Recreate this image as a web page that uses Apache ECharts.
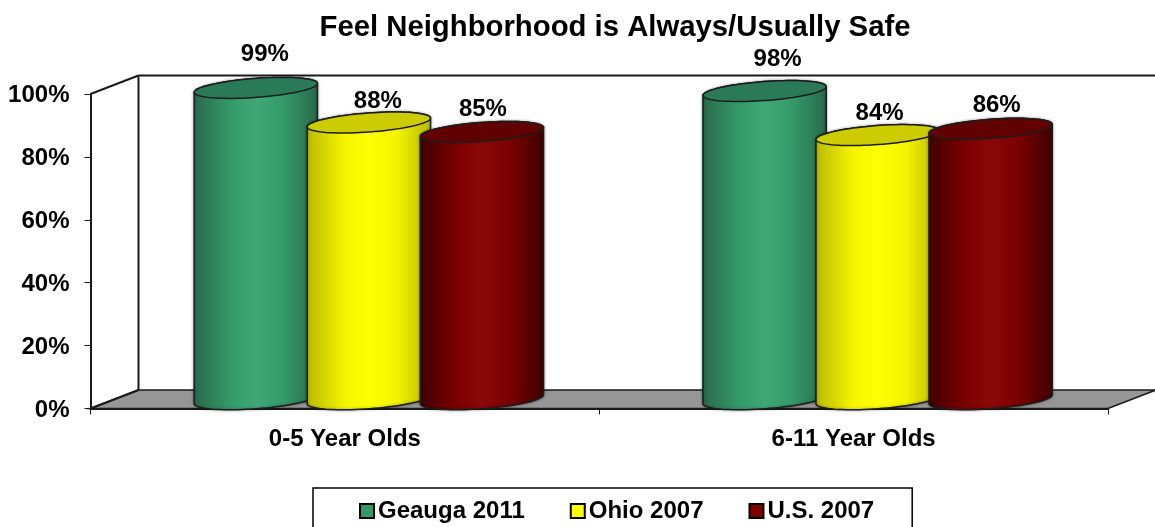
<!DOCTYPE html>
<html>
<head>
<meta charset="utf-8">
<style>html,body{margin:0;padding:0;background:#fff}#c{width:1155px;height:527px}</style>
<script src="https://cdn.jsdelivr.net/npm/echarts@6/dist/echarts.min.js"></script>
</head>
<body>
<div id="c"></div>
<script>
const categories = ['0-5 Year Olds', '6-11 Year Olds'];
const geauga = [99, 98];
const ohio = [88, 84];
const us = [85, 86];
const yTicks = [0, 20, 40, 60, 80, 100];

// layout: label nudges in px per series and category [dx, dy] from the cylinder's top centre
const labelNudge = [
  [[9, -33.5], [13, -32]],
  [[9, -21], [2, -22]],
  [[1, -23], [6, -23.5]]
];
const FONT = '"Liberation Sans", Arial, sans-serif';
const DEPTH_X = 48, DEPTH_Y = 18.5;
const palettes = [
  {main: '#339966', edge: '#28694c', mid: '#349a69', hi: '#3fa877', top: '#2a7a58'},
  {main: '#ffff00', edge: '#b9b900', mid: '#f4f400', hi: '#ffff00', top: '#cccc00'},
  {main: '#800000', edge: '#3f0000', mid: '#7a0000', hi: '#8c0808', top: '#600000'}
];

function ellipsePts(cx, cy, a, b, from, to, n) {
  const th = 4.2 * Math.PI / 180, pts = [];
  for (let i = 0; i <= n; i++) {
    const t = from + (to - from) * i / n;
    const x = a * Math.cos(t), y = b * Math.sin(t);
    pts.push([cx + x * Math.cos(th) + y * Math.sin(th), cy - x * Math.sin(th) + y * Math.cos(th)]);
  }
  return pts;
}

function cylinder(seriesIdx) {
  const pal = palettes[seriesIdx];
  return function (params, api) {
    const cat = api.value(0), val = api.value(1);
    const top = api.coord([cat, val]), base = api.coord([cat, 0]);
    const band = api.size([1, 0])[0];
    const step = band * 0.2222, a = band * 0.1215, b = 9.5;
    const cx = top[0] + DEPTH_X / 2 + (seriesIdx - 1) * step;
    const cyTop = top[1] - DEPTH_Y / 2, cyBase = base[1] - DEPTH_Y / 2;
    const body = ellipsePts(cx, cyBase, a, b, 0, Math.PI, 40)
      .concat(ellipsePts(cx, cyTop, a, b, Math.PI, 2 * Math.PI, 40));
    const nudge = labelNudge[seriesIdx][cat];
    return {
      type: 'group',
      children: [
        {type: 'polygon', shape: {points: body}, style: {
          fill: {type: 'linear', x: 0, y: 0, x2: 1, y2: 0, colorStops: [
            {offset: 0, color: pal.edge}, {offset: 0.3, color: pal.mid},
            {offset: 0.5, color: pal.hi}, {offset: 0.72, color: pal.mid},
            {offset: 1, color: pal.edge}]},
          stroke: '#1c1c1c', lineWidth: 1.5,
          shadowBlur: 3, shadowColor: 'rgba(0,0,0,0.35)'
        }},
        {type: 'polygon', shape: {points: ellipsePts(cx, cyTop, a, b, 0, 2 * Math.PI, 80)}, style: {
          fill: pal.top, stroke: '#1c1c1c', lineWidth: 1.5
        }},
        {type: 'text', x: cx + nudge[0], y: cyTop + nudge[1], style: {
          text: val + '%', fill: '#000', font: 'bold 24px ' + FONT, align: 'center', verticalAlign: 'middle'
        }}
      ]
    };
  };
}

function frame(params, api) {
  const o = api.coord([0, 0]), t = api.coord([0, 100]);
  const band = api.size([1, 0])[0];
  const L = o[0] - band / 2, R = L + 2 * band, yb = o[1], yt = t[1];
  const pt = (x, y) => [x + DEPTH_X, y - DEPTH_Y];
  const line = (p, q) => ({type: 'line', shape: {x1: p[0], y1: p[1], x2: q[0], y2: q[1]},
    style: {stroke: '#1a1a1a', lineWidth: 2}});
  return {
    type: 'group',
    children: [
      {type: 'polygon', shape: {points: [[L, yb], pt(L, yb), pt(R, yb), [R, yb]]},
        style: {fill: '#969696', stroke: '#1a1a1a', lineWidth: 1.5}},
      line(pt(L, yb), pt(L, yt)),
      line(pt(L, yt), pt(R, yt)),
      line([L, yt], pt(L, yt)),
      line([L, yb], pt(L, yb))
    ]
  };
}

const seriesDefs = [
  {name: 'Geauga 2011', values: geauga},
  {name: 'Ohio 2007', values: ohio},
  {name: 'U.S. 2007', values: us}
];

const chart = echarts.init(document.getElementById('c'), null, {renderer: 'canvas'});
chart.setOption({
  animation: false,
  backgroundColor: '#fff',
  title: {
    text: 'Feel Neighborhood is Always/Usually Safe',
    left: 610, top: 8, textAlign: 'center',
    textStyle: {fontFamily: FONT, fontWeight: 'bold', fontSize: 29.3, color: '#000'}
  },
  legend: {
    left: 313, top: 488, orient: 'horizontal',
    padding: [11, 38, 12, 46],
    backgroundColor: '#fff', borderColor: '#000', borderWidth: 1.5, borderRadius: 0,
    itemWidth: 14, itemHeight: 14, itemGap: 45,
    icon: 'rect',
    itemStyle: {borderColor: '#000', borderWidth: 2},
    data: seriesDefs.map(s => s.name),
    textStyle: {fontFamily: FONT, fontWeight: 'bold', fontSize: 24, color: '#000', padding: [0, 0, 0, -1]}
  },
  grid: {left: 90.5, right: 47, top: 94, bottom: 118.5, containLabel: false},
  xAxis: {
    type: 'category', data: categories, boundaryGap: true,
    axisLine: {show: true, lineStyle: {color: '#1a1a1a', width: 2}},
    axisTick: {show: true, length: 6, alignWithLabel: false, lineStyle: {color: '#1a1a1a', width: 1}},
    axisLabel: {margin: 19, fontFamily: FONT, fontWeight: 'bold', fontSize: 24, color: '#000'},
    splitLine: {show: false}
  },
  yAxis: {
    type: 'value', min: 0, max: 100, interval: 20,
    axisLine: {show: true, lineStyle: {color: '#1a1a1a', width: 2}},
    axisTick: {show: true, length: 6, lineStyle: {color: '#1a1a1a', width: 1}},
    axisLabel: {margin: 21, verticalAlign: 'top', lineHeight: 3, fontFamily: FONT, fontWeight: 'bold', fontSize: 24, color: '#000',
      customValues: yTicks, formatter: v => v + '%'},
    splitLine: {show: false}
  },
  series: [
    {type: 'custom', name: 'frame', coordinateSystem: 'cartesian2d', clip: false, z: 1, silent: true,
      data: [[0, 0]], encode: {x: 0, y: 1}, renderItem: frame}
  ].concat(seriesDefs.map((s, i) => ({
    type: 'custom', name: s.name, coordinateSystem: 'cartesian2d', clip: false, z: 2 + i,
    itemStyle: {color: palettes[i].main, borderColor: '#000', borderWidth: 2},
    encode: {x: 0, y: 1},
    data: s.values.map((v, c) => [c, v]),
    renderItem: cylinder(i)
  })))
});
</script>
</body>
</html>
